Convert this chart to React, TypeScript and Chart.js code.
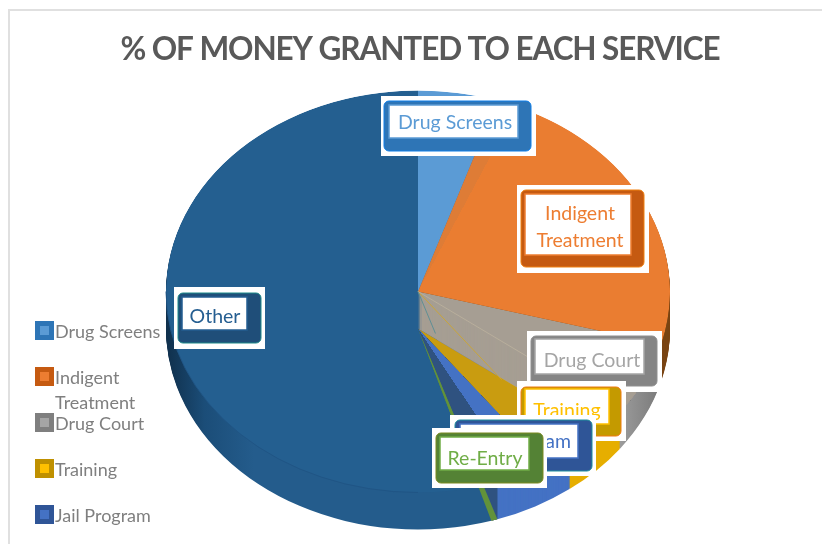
import React, { useEffect, useRef } from "react";
import { Chart, registerables } from "chart.js";

Chart.register(...registerables);

const chartTitle = "% OF MONEY GRANTED TO EACH SERVICE";
const categories = ["Drug Screens", "Indigent Treatment", "Drug Court", "Training", "Jail Program", "Re-Entry", "Other"];
const shares = [5.1, 24.1, 6, 4.5, 5.2, 0.4, 54.7];

const legendLabels = [["Drug Screens"], ["Indigent", "Treatment"], ["Drug Court"], ["Training"], ["Jail Program"]];
const legendSwatchTop = [321, 367, 413, 459, 505];
const legendOuter = ["#2E75B6", "#C55A11", "#7F7F7F", "#BF9000", "#2F5597"];
const legendInner = ["#5B9BD5", "#ED7D31", "#A5A5A5", "#FFC000", "#4472C4"];

const faceColors = ["#5B9BD5", "#EA7D31", "#A69E93", "#C99C10", "#4472C4", "#5E8B38", "#245F90"];
const wallColors = ["#2E75B6", "#7A4514", "#8F8F8F", "#E6AE00", "#4472C4", "#2F5280", "#245C8C"];
const textColors = ["#5B9BD5", "#ED7D31", "#A5A5A5", "#FFC000", "#4472C4", "#70AD47", "#255E91"];
const bevelColors = ["#2E75B6", "#C55A11", "#858585", "#C49A00", "#2F5597", "#548235", "#1F4E79"];
const edgeColors = ["#0F7FE8", "#F08010", "#8F8F8F", "#F07A10", "#1E8F9E", "#7A8A20", "#1E8A8A"];

// Each callout: outer white plate, bevelled body and inner panel as [left, top, right, bottom].
const labelBoxes = [
  { lines: ["Drug Screens"], plate: [381, 96, 536, 156], body: [384, 101, 531, 151], panel: [389, 105, 518, 138], cx: 455, y: [123] },
  { lines: ["Indigent", "Treatment"], plate: [517, 185, 649, 273], body: [521, 190, 644, 267], panel: [525, 194, 631, 255], cx: 580, y: [214, 241] },
  { lines: ["Drug Court"], plate: [527, 331, 662, 392], body: [531, 336, 657, 386], panel: [535, 339, 644, 374], cx: 592, y: [361] },
  { lines: ["Training"], plate: [517, 381, 626, 441], body: [521, 387, 621, 436], panel: [525, 389, 609, 424], cx: 567, y: [411] },
  { lines: ["Jail Program"], plate: [450, 415, 596, 476], body: [455, 420, 592, 471], panel: [460, 424, 578, 458], cx: 519, y: [442] },
  { lines: ["Re-Entry"], plate: [432, 428, 547, 488], body: [436, 433, 543, 483], panel: [440, 437, 529, 470], cx: 485, y: [459] },
  { lines: ["Other"], plate: [174, 287, 265, 349], body: [178, 293, 261, 343], panel: [182, 297, 247, 330], cx: 215, y: [317] },
];

const PIE_X = 418;
const PIE_Y = 291.5;
const PIE_R = 252;
const TILT = 201 / 252;
const DEPTH = 37;
const FONT = "Lato, 'Open Sans', sans-serif";

const tiltedPiePlugin = {
  id: "tiltedPie",
  beforeDraw(chart: any) {
    // Tightens the title, which the title plugin draws with the context's own spacing.
    chart.ctx.letterSpacing = "-1.1px";
  },
  beforeDatasetsDraw(chart: any) {
    const ctx: any = chart.ctx;
    ctx.letterSpacing = "0px";
    const arcs: any[] = chart.getDatasetMeta(0).data;

    const paint = (arc: any, fill: any, dy: number) => {
      const saved = arc.options;
      const painted = Object.create(saved);
      painted.backgroundColor = fill;
      arc.options = painted;
      ctx.save();
      ctx.translate(PIE_X - arc.x, PIE_Y + dy);
      ctx.scale(1, TILT);
      ctx.translate(0, -arc.y);
      arc.draw(ctx);
      ctx.restore();
      arc.options = saved;
    };

    // Two-tone slice: first colour from the start angle up to the given fraction of its sweep.
    const split = (arc: any, first: string, second: string, fraction: number) => {
      const span = (arc.endAngle - arc.startAngle) / (Math.PI * 2);
      const g = ctx.createConicGradient(arc.startAngle, arc.x, arc.y);
      g.addColorStop(0, first);
      g.addColorStop(span * fraction, first);
      g.addColorStop(span * fraction, second);
      g.addColorStop(1, second);
      return g;
    };

    const otherWall = ctx.createLinearGradient(PIE_X - PIE_R, 0, PIE_X - PIE_R + 90, 0);
    otherWall.addColorStop(0, "#0F2E49");
    otherWall.addColorStop(0.45, "#1B4D78");
    otherWall.addColorStop(1, "#245C8C");
    const courtWall = ctx.createLinearGradient(PIE_X + 195, 0, PIE_X + 240, 0);
    courtWall.addColorStop(0, "#A3A3A3");
    courtWall.addColorStop(1, "#7D7D7D");

    const walls = wallColors.slice() as any[];
    walls[6] = otherWall;
    walls[2] = courtWall;

    // Frame around the chart
    ctx.save();
    ctx.strokeStyle = "#E0E0E0";
    ctx.lineWidth = 2;
    ctx.beginPath();
    ctx.moveTo(9, 544);
    ctx.lineTo(9, 10);
    ctx.lineTo(822, 10);
    ctx.stroke();
    ctx.restore();

    // Extruded side of the pie
    for (let dy = DEPTH; dy >= 1; dy--) {
      arcs.forEach((arc, i) => paint(arc, walls[i], dy));
    }

    // Upper face, confined to the ellipse of the top rim
    ctx.save();
    ctx.beginPath();
    ctx.ellipse(PIE_X, PIE_Y, PIE_R, PIE_R * TILT, 0, 0, Math.PI * 2);
    ctx.clip();
    paint(arcs[6], faceColors[6], 0);
    paint(arcs[3], faceColors[3], DEPTH);
    paint(arcs[4], split(arcs[4], faceColors[4], "#2F5280", 0.48), DEPTH);
    paint(arcs[5], faceColors[5], DEPTH);
    for (let dy = DEPTH; dy >= 0; dy--) paint(arcs[2], faceColors[2], dy);
    paint(arcs[0], faceColors[0], 0);
    paint(arcs[1], split(arcs[1], "#DE7C36", faceColors[1], 0.055), 0);

    // Slice edges showing through the pale wedge
    const spoke = (angle: number, length: number, color: string) => {
      ctx.save();
      ctx.strokeStyle = color;
      ctx.lineWidth = 1;
      ctx.beginPath();
      ctx.moveTo(PIE_X, PIE_Y);
      ctx.lineTo(PIE_X + Math.cos(angle) * PIE_R * length, PIE_Y + Math.sin(angle) * PIE_R * TILT * length);
      ctx.stroke();
      ctx.restore();
    };
    spoke(arcs[3].endAngle, 0.55, "#C9A53A");
    spoke(arcs[3].startAngle, 0.75, "#B8AE9C");
    spoke(arcs[4].endAngle, 0.22, "#5F8F95");
    ctx.restore();

    // The thin green slice runs on across the side, with a dark sliver beside it
    const rimX = PIE_X + Math.cos(arcs[4].endAngle) * PIE_R;
    ctx.save();
    ctx.beginPath();
    ctx.rect(0, PIE_Y, rimX, 544);
    ctx.clip();
    paint(arcs[4], split(arcs[4], "rgba(47,82,128,0)", "#2F5280", 0.48), DEPTH);
    paint(arcs[5], "#62923A", DEPTH);
    ctx.restore();

    // Faint seam between the face of the largest slice and its side
    ctx.save();
    ctx.strokeStyle = "#205585";
    ctx.lineWidth = 1;
    ctx.beginPath();
    ctx.ellipse(PIE_X, PIE_Y, PIE_R, PIE_R * TILT, 0, 0.5 * Math.PI, Math.PI);
    ctx.stroke();
    ctx.restore();

    // Legend column
    ctx.textAlign = "left";
    ctx.textBaseline = "middle";
    ctx.font = `18px ${FONT}`;
    legendLabels.forEach((lines, i) => {
      const top = legendSwatchTop[i];
      ctx.fillStyle = legendOuter[i];
      ctx.fillRect(35, top, 19, 19);
      ctx.fillStyle = legendInner[i];
      ctx.fillRect(40, top + 5, 9, 9);
      ctx.fillStyle = "#7F7F7F";
      lines.forEach((line, j) => ctx.fillText(line, 55, top + 11 + j * 25));
    });

    // Slice callouts
    labelBoxes.forEach((box, i) => {
      const [pl, pt, pr, pb] = box.plate;
      const [bl, bt, br, bb] = box.body;
      const [il, it, ir, ib] = box.panel;
      ctx.fillStyle = "#FFFFFF";
      ctx.fillRect(pl, pt, pr - pl, pb - pt);
      ctx.fillStyle = bevelColors[i];
      ctx.strokeStyle = edgeColors[i];
      ctx.lineWidth = 1;
      ctx.beginPath();
      ctx.roundRect(bl, bt, br - bl, bb - bt, 5);
      ctx.fill();
      ctx.stroke();
      ctx.fillStyle = "#FFFFFF";
      ctx.strokeStyle = textColors[i];
      ctx.lineWidth = 1.5;
      ctx.beginPath();
      ctx.rect(il, it, ir - il, ib - it);
      ctx.fill();
      ctx.stroke();
      ctx.fillStyle = textColors[i];
      ctx.font = `19.5px ${FONT}`;
      ctx.textAlign = "center";
      ctx.textBaseline = "middle";
      box.lines.forEach((line, j) => ctx.fillText(line, box.cx, box.y[j]));
    });

    return false;
  },
};

export default function App() {
  const canvasRef = useRef<HTMLCanvasElement | null>(null);

  useEffect(() => {
    document.body.style.margin = "0";
    const canvas = canvasRef.current;
    if (!canvas) return;
    const chart = new Chart(canvas, {
      type: "pie",
      data: {
        labels: categories,
        datasets: [{ data: shares, backgroundColor: faceColors, borderWidth: 0 }],
      },
      options: {
        responsive: false,
        animation: false,
        events: [],
        radius: PIE_R,
        layout: { padding: { left: 18 } },
        plugins: {
          legend: { display: false },
          tooltip: { enabled: false },
          title: {
            display: true,
            text: chartTitle,
            fullSize: false,
            color: "#595959",
            font: { family: FONT, size: 31.5, weight: "bold" },
            padding: { top: 31, bottom: 10 },
          },
        },
      } as any,
      plugins: [tiltedPiePlugin],
    });
    return () => chart.destroy();
  }, []);

  return (
    <canvas
      ref={canvasRef}
      width={822}
      height={544}
      style={{ display: "block", position: "absolute", left: 0, top: 0, width: 822, height: 544 }}
    />
  );
}
